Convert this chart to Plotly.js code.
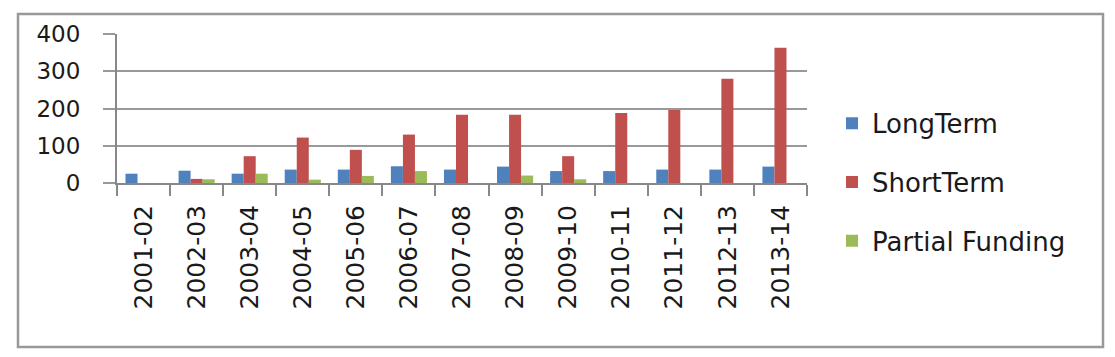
<!DOCTYPE html>
<html>
<head>
<meta charset="utf-8">
<script src="https://cdn.plot.ly/plotly-3.0.1.min.js"></script>
<style>html,body{margin:0;padding:0;background:#fff;}#chart{width:1115px;height:357px;}</style>
</head>
<body>
<div id="chart"></div>
<script>
const categories = ["2001-02","2002-03","2003-04","2004-05","2005-06","2006-07","2007-08","2008-09","2009-10","2010-11","2011-12","2012-13","2013-14"];
const longTerm = [25, 33, 25, 36, 36, 45, 36, 44, 32, 32, 36, 36, 44];
const shortTerm = [0, 11, 72, 122, 89, 130, 183, 183, 72, 188, 196, 280, 363];
const partialFunding = [0, 10, 25, 9, 19, 32, 0, 20, 10, 0, 0, 0, 0];
const seriesNames = ["LongTerm", "ShortTerm", "Partial Funding"];
const seriesColors = ["#4F81BD", "#C0504D", "#9BBB59"];
const yTicks = [0, 100, 200, 300, 400];

const seriesValues = [longTerm, shortTerm, partialFunding];
const traces = seriesValues.map((vals, i) => ({
  type: "bar",
  name: seriesNames[i],
  x: categories,
  y: vals,
  legendgroup: "g" + i,
  marker: {color: seriesColors[i], line: {width: 0}},
  hoverinfo: "x+y+name"
}));

const L = 117, R = 807, T = 34, B = 183.5;
const pw = R - L, ph = B - T;
const px = v => (v - L) / pw;
const py = v => (B - v) / ph;

const yFont = {family: "DejaVu Sans, sans-serif", size: 23, color: "#1a1a1a"};
const xFont = {family: "DejaVu Sans, sans-serif", size: 25, color: "#1a1a1a"};

const layout = {
  width: 1115, height: 357,
  margin: {l: L, r: 1115 - R, t: T, b: 357 - B},
  paper_bgcolor: "#ffffff",
  plot_bgcolor: "#ffffff",
  barmode: "group",
  bargap: 0.32,
  bargroupgap: 0,
  showlegend: true,
  legend: {
    x: px(832), y: py(100), xanchor: "left", yanchor: "top",
    font: {family: "DejaVu Sans, sans-serif", size: 26, color: "#1a1a1a"},
    traceorder: "grouped", tracegroupgap: 22,
    maxheight: 357,
    bgcolor: "rgba(0,0,0,0)"
  },
  xaxis: {
    type: "category",
    tickangle: -90,
    tickfont: xFont,
    ticks: "outside", tickson: "boundaries", ticklen: 11, tickcolor: "#888", tickwidth: 2,
    ticklabelstandoff: 10,
    showline: true, linecolor: "#888", linewidth: 2,
    showgrid: false, zeroline: false,
    fixedrange: true
  },
  yaxis: {
    range: [0, 400],
    tickvals: yTicks,
    ticktext: yTicks.map(String),
    tickfont: yFont,
    ticks: "outside", ticklen: 12, tickcolor: "#999", tickwidth: 2,
    ticklabelstandoff: 18,
    showline: true, linecolor: "#888", linewidth: 2,
    showgrid: true, gridcolor: "#999", gridwidth: 2,
    zeroline: false,
    fixedrange: true
  },
  shapes: [{
    type: "rect", xref: "paper", yref: "paper",
    x0: px(18), x1: px(1103), y0: py(348), y1: py(14),
    line: {color: "#999", width: 2.5}, fillcolor: "rgba(0,0,0,0)", layer: "below"
  }]
};

Plotly.newPlot("chart", traces, layout, {displayModeBar: false, staticPlot: true});
</script>
</body>
</html>
